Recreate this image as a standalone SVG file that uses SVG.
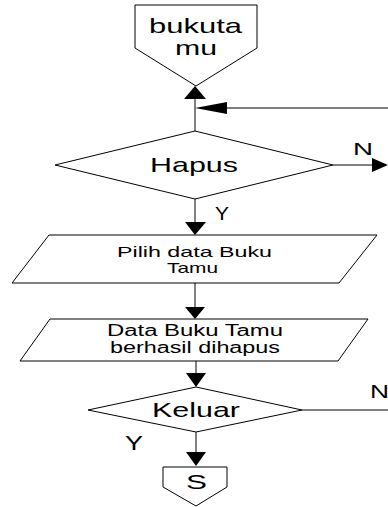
<svg xmlns="http://www.w3.org/2000/svg" width="388" height="507" viewBox="0 0 388 507">
<style>
.shape{fill:#fff;stroke:#000;stroke-width:1}
.line{fill:none;stroke:#000;stroke-width:1}
.head{fill:#000;stroke:none}
text{font-family:"Liberation Sans",Arial,sans-serif;fill:#000}
</style>
<rect width="388" height="507" fill="#fff"/>
<g id="connectors">
<line class="line" x1="195" y1="131" x2="195" y2="99"/>
<polygon class="head" points="195,86 184,99 206,99"/>
<line class="line" x1="388" y1="108" x2="227" y2="108"/>
<polygon class="head" points="195,108 227,102 227,114"/>
<line class="line" x1="333" y1="165" x2="372" y2="165"/>
<polygon class="head" points="388,165 372,158 372,172"/>
<text x="353" y="155" font-size="17" textLength="20" lengthAdjust="spacingAndGlyphs">N</text>
<line class="line" x1="195" y1="199" x2="195" y2="222"/>
<polygon class="head" points="195,235 185,222 206,222"/>
<text x="215" y="220" font-size="18" textLength="14" lengthAdjust="spacingAndGlyphs">Y</text>
<line class="line" x1="195" y1="283" x2="195" y2="307"/>
<polygon class="head" points="195,319 185,307 205,307"/>
<line class="line" x1="196" y1="361" x2="196" y2="373"/>
<polygon class="head" points="196,387 186,373 206,373"/>
<line class="line" x1="302" y1="410" x2="388" y2="410"/>
<text x="370" y="398" font-size="18" textLength="19" lengthAdjust="spacingAndGlyphs">N</text>
<line class="line" x1="196" y1="432" x2="196" y2="452"/>
<polygon class="head" points="196,466 186,452 206,452"/>
<text x="125" y="450" font-size="20" textLength="18" lengthAdjust="spacingAndGlyphs">Y</text>
</g>
<g id="bukutamu">
<polygon class="shape" points="135,5 257,5 257,48 196,86 135,48"/>
<text x="149" y="33" font-size="21" textLength="93" lengthAdjust="spacingAndGlyphs">bukuta</text>
<text x="175" y="55" font-size="21" textLength="42" lengthAdjust="spacingAndGlyphs">mu</text>
</g>
<g id="hapus">
<polygon class="shape" points="55,165 195,131 333,165 195,199"/>
<text x="150" y="172" font-size="21" textLength="88" lengthAdjust="spacingAndGlyphs">Hapus</text>
</g>
<g id="pilih">
<polygon class="shape" points="49,235 377,235 339,283 12,283"/>
<text x="117" y="257" font-size="15" textLength="155" lengthAdjust="spacingAndGlyphs">Pilih data Buku</text>
<text x="167" y="273" font-size="15" textLength="51" lengthAdjust="spacingAndGlyphs">Tamu</text>
</g>
<g id="dihapus">
<polygon class="shape" points="50,319 368,319 338,361 20,361"/>
<text x="107" y="336" font-size="16" textLength="176" lengthAdjust="spacingAndGlyphs">Data Buku Tamu</text>
<text x="110" y="353" font-size="16" textLength="170" lengthAdjust="spacingAndGlyphs">berhasil dihapus</text>
</g>
<g id="keluar">
<polygon class="shape" points="88,410 196,387 302,410 196,432"/>
<text x="152" y="417" font-size="21" textLength="88" lengthAdjust="spacingAndGlyphs">Keluar</text>
</g>
<g id="selesai">
<polygon class="shape" points="163,467 227,467 227,487 196,506 163,487"/>
<text x="186" y="489" font-size="21" textLength="21" lengthAdjust="spacingAndGlyphs">S</text>
</g>
</svg>
